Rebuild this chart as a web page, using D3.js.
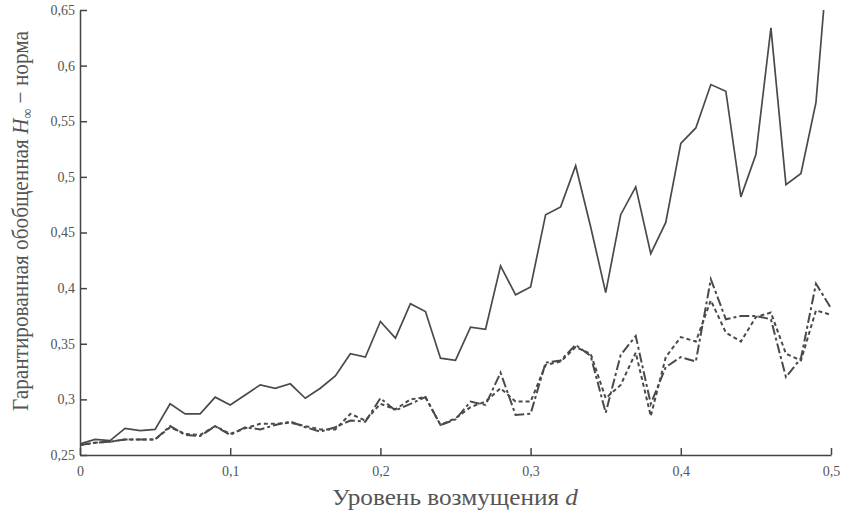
<!DOCTYPE html>
<head>
    <meta charset="utf-8">
    <title>H-inf norm vs d</title>
    <script src="https://cdn.jsdelivr.net/npm/d3@7"></script>
</head>
<style>
    body { margin: 0; background: #fff; }
    .axis path, .axis line { stroke: #444; stroke-width: 1.5px; }
    .series { fill: none; stroke: #4a4a4a; }
</style>
<body>
    <svg></svg>
</body>

<script>
    // disturbance level d
    var dLevels = [0, 0.01, 0.02, 0.03, 0.04, 0.05, 0.06, 0.07, 0.08, 0.09,
        0.10, 0.11, 0.12, 0.13, 0.14, 0.15, 0.16, 0.17, 0.18, 0.19,
        0.20, 0.21, 0.22, 0.23, 0.24, 0.25, 0.26, 0.27, 0.28, 0.29,
        0.30, 0.31, 0.32, 0.33, 0.34, 0.35, 0.36, 0.37, 0.38, 0.39,
        0.40, 0.41, 0.42, 0.43, 0.44, 0.45, 0.46, 0.47, 0.48, 0.49, 0.50];

    // solid line
    var normSolid = [0.260, 0.264, 0.263, 0.274, 0.272, 0.273, 0.296, 0.287, 0.287, 0.302,
        0.295, 0.304, 0.313, 0.310, 0.314, 0.301, 0.310, 0.321, 0.341, 0.338,
        0.370, 0.355, 0.386, 0.379, 0.337, 0.335, 0.365, 0.363, 0.420, 0.394,
        0.401, 0.466, 0.473, 0.510, 0.455, 0.396, 0.466, 0.491, 0.431, 0.459,
        0.530, 0.544, 0.583, 0.577, 0.482, 0.520, 0.634, 0.493, 0.503, 0.567, 0.730];

    // long dash-dot line
    var normDashDot = [0.259, 0.261, 0.262, 0.264, 0.264, 0.264, 0.276, 0.268, 0.267, 0.276,
        0.268, 0.275, 0.273, 0.277, 0.280, 0.275, 0.271, 0.275, 0.281, 0.280,
        0.301, 0.290, 0.296, 0.302, 0.277, 0.282, 0.298, 0.295, 0.324, 0.286,
        0.287, 0.333, 0.335, 0.349, 0.339, 0.288, 0.340, 0.357, 0.296, 0.329,
        0.338, 0.334, 0.408, 0.372, 0.375, 0.375, 0.372, 0.320, 0.337, 0.404, 0.382];

    // short dashed line
    var normDashed = [0.259, 0.261, 0.262, 0.264, 0.264, 0.264, 0.275, 0.269, 0.268, 0.276,
        0.269, 0.274, 0.278, 0.278, 0.279, 0.276, 0.273, 0.273, 0.287, 0.281,
        0.296, 0.291, 0.300, 0.302, 0.277, 0.283, 0.293, 0.298, 0.310, 0.298,
        0.298, 0.331, 0.334, 0.347, 0.341, 0.301, 0.313, 0.342, 0.285, 0.338,
        0.356, 0.352, 0.389, 0.360, 0.352, 0.374, 0.378, 0.341, 0.335, 0.380, 0.376];

    var xTicks = [0, 0.1, 0.2, 0.3, 0.4, 0.5];
    var yTicks = [0.25, 0.3, 0.35, 0.4, 0.45, 0.5, 0.55, 0.6, 0.65];

    var vWidth = 842, vHeight = 519;
    var mLeft = 80, mRight = 831, mTop = 10, mBottom = 455;
    var serif = 'Liberation Serif';

    var svg = d3.select('svg')
        .attr('width', vWidth)
        .attr('height', vHeight);

    var x = d3.scaleLinear().domain([0, 0.5]).range([mLeft, mRight]);
    var y = d3.scaleLinear().domain([0.25, 0.65]).range([mBottom, mTop]);

    var fmt = function (v) { return String(+v.toFixed(2)).replace('.', ','); };

    // clip so the last solid segment stops at the top
    svg.append('clipPath').attr('id', 'plotclip')
        .append('rect')
        .attr('x', mLeft).attr('y', mTop)
        .attr('width', mRight - mLeft).attr('height', mBottom - mTop);

    // axes, ticks point inward
    var gx = svg.append('g').attr('class', 'axis')
        .attr('transform', 'translate(0,' + mBottom + ')')
        .call(d3.axisBottom(x).tickValues(xTicks).tickFormat(fmt).tickSizeInner(-7).tickSizeOuter(0).tickPadding(11));

    var gy = svg.append('g').attr('class', 'axis')
        .attr('transform', 'translate(' + mLeft + ',0)')
        .call(d3.axisLeft(y).tickValues(yTicks).tickFormat(fmt).tickSizeInner(-7).tickSizeOuter(0).tickPadding(5));

    [gx, gy].forEach(function (g) {
        g.attr('font-family', serif).attr('font-size', 14);
        g.selectAll('text').attr('fill', '#555');
    });

    // lines
    var series = [
        {vals: normSolid, dash: null, w: 1.7},
        {vals: normDashDot, dash: '10,3,3,3', w: 2},
        {vals: normDashed, dash: '4,3', w: 2}
    ];

    var line = d3.line()
        .x(function (d, i) { return x(dLevels[i]); })
        .y(function (d) { return y(d); });

    svg.append('g').attr('clip-path', 'url(#plotclip)')
        .selectAll('path')
        .data(series)
        .enter().append('path')
        .attr('class', 'series')
        .attr('d', function (s) { return line(s.vals); })
        .attr('stroke-width', function (s) { return s.w; })
        .attr('stroke-dasharray', function (s) { return s.dash; });

    // axis titles
    var xt = svg.append('text')
        .attr('x', 455)
        .attr('y', 505)
        .attr('text-anchor', 'middle')
        .attr('fill', '#555')
        .attr('font-size', 23)
        .attr('font-family', serif)
        .attr('textLength', 246)
        .attr('lengthAdjust', 'spacingAndGlyphs');
    xt.append('tspan').text('Уровень возмущения ');
    xt.append('tspan').attr('font-style', 'italic').text('d');

    var yt = svg.append('text')
        .attr('transform', 'translate(28,221) rotate(-90)')
        .attr('text-anchor', 'middle')
        .attr('fill', '#555')
        .attr('font-size', 23)
        .attr('font-family', serif)
        .attr('textLength', 380)
        .attr('lengthAdjust', 'spacingAndGlyphs');
    yt.append('tspan').text('Гарантированная обобщенная ');
    yt.append('tspan').attr('font-style', 'italic').text('H');
    yt.append('tspan').attr('font-size', '15px').attr('dy', 4).text('∞');
    yt.append('tspan').attr('dy', -4).text(' − норма');
</script>
